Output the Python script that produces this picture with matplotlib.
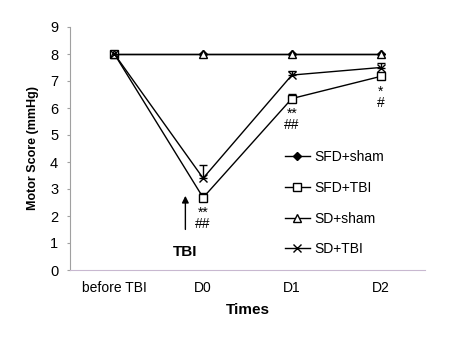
import matplotlib
matplotlib.use("Agg")
import matplotlib.pyplot as plt

plt.rcParams['font.family'] = ['Liberation Sans', 'DejaVu Sans']

categories = ["before TBI", "D0", "D1", "D2"]
sfd_sham = [8, 8, 8, 8]
sfd_tbi = [8, 2.68, 6.35, 7.17]
sd_sham = [8, 8, 8, 8]
sd_tbi = [8, 3.4, 7.22, 7.5]
sfd_tbi_err = [0, 0.17, 0.17, 0.12]
sd_tbi_err = [0, 0.48, 0.15, 0.18]
sig_labels = ["", "**\n##", "**\n##", "*\n#"]
yticks = list(range(0, 10))

fig = plt.figure(figsize=(4.53, 3.37), dpi=100)
ax = fig.add_axes([70/453, 1 - 270/337, 355/453, 243/337])
x = list(range(len(categories)))

ax.errorbar(x, sfd_tbi, yerr=[[0]*4, sfd_tbi_err], fmt='none', ecolor='black',
            capsize=3, elinewidth=1)
ax.errorbar(x, sd_tbi, yerr=[[0]*4, sd_tbi_err], fmt='none', ecolor='black',
            capsize=3, elinewidth=1)
ax.plot(x, sfd_sham, '-', color='black', marker='D', markersize=4,
        markerfacecolor='black', lw=1, label='SFD+sham')
ax.plot(x, sfd_tbi, '-', color='black', marker='s', markersize=6,
        markerfacecolor='white', lw=1, label='SFD+TBI')
ax.plot(x, sd_sham, '-', color='black', marker='^', markersize=6,
        markerfacecolor='white', lw=1, label='SD+sham')
ax.plot(x, sd_tbi, '-', color='black', marker='x', markersize=6,
        lw=1, label='SD+TBI')

ax.set_xlim(-0.5, 3.5)
ax.set_ylim(0, 9)
ax.set_yticks(yticks)
ax.set_xticks(x)
ax.set_xticklabels(categories, fontsize=10)
ax.tick_params(axis='y', labelsize=10.5, length=2.5, color='#a0a0a0', pad=6)
ax.tick_params(axis='x', length=0, pad=8)
for s in ['top', 'right']:
    ax.spines[s].set_visible(False)
ax.spines['left'].set_color('#a0a0a0')
ax.spines['bottom'].set_color('#c8b8d0')

ax.set_ylabel('Motor Score (mmHg)', fontsize=9, fontweight='bold', labelpad=8)
ax.set_xlabel('Times', fontsize=11, fontweight='bold', labelpad=6)

# significance annotations (placed just below the SFD+TBI points)
for xi, yi, lab in zip(x, sfd_tbi, sig_labels):
    if lab:
        ax.annotate(lab, xy=(xi, yi), xytext=(0, -8), textcoords='offset pixels',
                    ha='center', va='top', fontsize=10, linespacing=0.8)

ax.annotate('', xy=(0.8, 2.85), xytext=(0.8, 1.4),
            arrowprops=dict(arrowstyle='-|>', color='black', lw=1, mutation_scale=10))
ax.text(0.8, 0.66, 'TBI', ha='center', va='center', fontsize=11, fontweight='bold')

ax.legend(loc='center left', bbox_to_anchor=(0.57, 0.275), frameon=False, fontsize=10,
          handlelength=1.8, labelspacing=1.2, handletextpad=0.3)

fig.savefig('out.png', dpi=100)
